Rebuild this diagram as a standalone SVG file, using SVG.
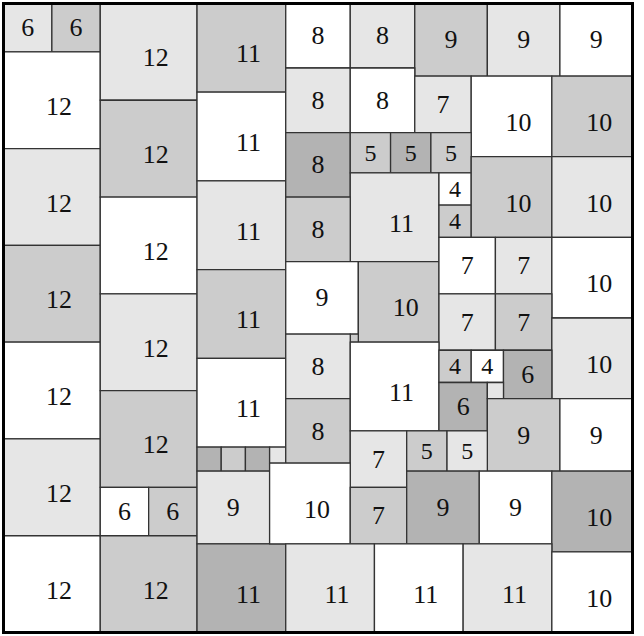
<svg xmlns="http://www.w3.org/2000/svg" width="644" height="636" viewBox="0 0 644 636">
<style>
rect{stroke:#333;stroke-width:1.3;vector-effect:non-scaling-stroke}
.w{fill:#fff}.l{fill:#e6e6e6}.m{fill:#ccc}.d{fill:#b3b3b3}
text{font-family:"Liberation Serif","DejaVu Serif",serif;font-size:3.22px;text-anchor:middle;fill:#111}
text.s{font-size:2.98px}
#border{fill:none;stroke:#000;stroke-width:3}
</style>
<rect x="0" y="0" width="644" height="636" fill="#fff" style="stroke:none"/>
<g transform="translate(3.5 3.5) scale(8.0641)">
<g id="n1"><rect class="l" x="0" y="0" width="6" height="6"/><text x="3" y="4.07">6</text></g>
<g id="n2"><rect class="m" x="6" y="0" width="6" height="6"/><text x="9" y="4.07">6</text></g>
<g id="n3"><rect class="w" x="0" y="6" width="12" height="12"/><text x="6.87" y="13.8">12</text></g>
<g id="n4"><rect class="l" x="0" y="18" width="12" height="12"/><text x="6.87" y="25.8">12</text></g>
<g id="n5"><rect class="m" x="0" y="30" width="12" height="12"/><text x="6.87" y="37.8">12</text></g>
<g id="n6"><rect class="w" x="0" y="42" width="12" height="12"/><text x="6.87" y="49.8">12</text></g>
<g id="n7"><rect class="l" x="0" y="54" width="12" height="12"/><text x="6.87" y="61.8">12</text></g>
<g id="n8"><rect class="w" x="0" y="66" width="12" height="12"/><text x="6.87" y="73.8">12</text></g>
<g id="n9"><rect class="l" x="12" y="0" width="12" height="12"/><text x="18.87" y="7.8">12</text></g>
<g id="n10"><rect class="m" x="12" y="12" width="12" height="12"/><text x="18.87" y="19.8">12</text></g>
<g id="n11"><rect class="w" x="12" y="24" width="12" height="12"/><text x="18.87" y="31.8">12</text></g>
<g id="n12"><rect class="l" x="12" y="36" width="12" height="12"/><text x="18.87" y="43.8">12</text></g>
<g id="n13"><rect class="m" x="12" y="48" width="12" height="12"/><text x="18.87" y="55.8">12</text></g>
<g id="n14"><rect class="w" x="12" y="60" width="6" height="6"/><text x="15" y="64.07">6</text></g>
<g id="n15"><rect class="m" x="18" y="60" width="6" height="6"/><text x="21" y="64.07">6</text></g>
<g id="n16"><rect class="m" x="12" y="66" width="12" height="12"/><text x="18.87" y="73.8">12</text></g>
<g id="n17"><rect class="m" x="24" y="0" width="11" height="11"/><text x="30.37" y="7.3">11</text></g>
<g id="n18"><rect class="w" x="24" y="11" width="11" height="11"/><text x="30.37" y="18.3">11</text></g>
<g id="n19"><rect class="l" x="24" y="22" width="11" height="11"/><text x="30.37" y="29.3">11</text></g>
<g id="n20"><rect class="m" x="24" y="33" width="11" height="11"/><text x="30.37" y="40.3">11</text></g>
<g id="n21"><rect class="w" x="24" y="44" width="11" height="11"/><text x="30.37" y="51.3">11</text></g>
<g id="n22"><rect class="d" x="24" y="55" width="3" height="3"/></g>
<g id="n23"><rect class="m" x="27" y="55" width="3" height="3"/></g>
<g id="n24"><rect class="d" x="30" y="55" width="3" height="3"/></g>
<g id="n25"><rect class="l" x="33" y="55" width="2" height="2"/></g>
<g id="n26"><rect class="l" x="24" y="58" width="9" height="9"/><text x="28.5" y="63.57">9</text></g>
<g id="n27"><rect class="d" x="24" y="67" width="11" height="11"/><text x="30.37" y="74.3">11</text></g>
<g id="n28"><rect class="w" x="35" y="0" width="8" height="8"/><text x="39" y="5.07">8</text></g>
<g id="n29"><rect class="l" x="43" y="0" width="8" height="8"/><text x="47" y="5.07">8</text></g>
<g id="n30"><rect class="m" x="51" y="0" width="9" height="9"/><text x="55.5" y="5.57">9</text></g>
<g id="n31"><rect class="l" x="60" y="0" width="9" height="9"/><text x="64.5" y="5.57">9</text></g>
<g id="n32"><rect class="w" x="69" y="0" width="9" height="9"/><text x="73.5" y="5.57">9</text></g>
<g id="n33"><rect class="l" x="35" y="8" width="8" height="8"/><text x="39" y="13.07">8</text></g>
<g id="n34"><rect class="w" x="43" y="8" width="8" height="8"/><text x="47" y="13.07">8</text></g>
<g id="n35"><rect class="l" x="51" y="9" width="7" height="7"/><text x="54.5" y="13.57">7</text></g>
<g id="n36"><rect class="w" x="58" y="9" width="10" height="10"/><text x="63.87" y="15.8">10</text></g>
<g id="n37"><rect class="m" x="68" y="9" width="10" height="10"/><text x="73.87" y="15.8">10</text></g>
<g id="n38"><rect class="d" x="35" y="16" width="8" height="8"/><text x="39" y="21.07">8</text></g>
<g id="n39"><rect class="m" x="43" y="16" width="5" height="5"/><text class="s" x="45.5" y="19.48">5</text></g>
<g id="n40"><rect class="d" x="48" y="16" width="5" height="5"/><text class="s" x="50.5" y="19.48">5</text></g>
<g id="n41"><rect class="m" x="53" y="16" width="5" height="5"/><text class="s" x="55.5" y="19.48">5</text></g>
<g id="n42"><rect class="l" x="43" y="21" width="11" height="11"/><text x="49.37" y="28.3">11</text></g>
<g id="n43"><rect class="w" x="54" y="21" width="4" height="4"/><text class="s" x="56" y="23.98">4</text></g>
<g id="n44"><rect class="m" x="54" y="25" width="4" height="4"/><text class="s" x="56" y="27.98">4</text></g>
<g id="n45"><rect class="m" x="58" y="19" width="10" height="10"/><text x="63.87" y="25.8">10</text></g>
<g id="n46"><rect class="l" x="68" y="19" width="10" height="10"/><text x="73.87" y="25.8">10</text></g>
<g id="n47"><rect class="m" x="35" y="24" width="8" height="8"/><text x="39" y="29.07">8</text></g>
<g id="n48"><rect class="w" x="35" y="32" width="9" height="9"/><text x="39.5" y="37.57">9</text></g>
<g id="n49"><rect class="m" x="44" y="32" width="10" height="10"/><text x="49.87" y="38.8">10</text></g>
<g id="n50"><rect class="m" x="43" y="41" width="1" height="1"/></g>
<g id="n51"><rect class="w" x="54" y="29" width="7" height="7"/><text x="57.5" y="33.57">7</text></g>
<g id="n52"><rect class="l" x="61" y="29" width="7" height="7"/><text x="64.5" y="33.57">7</text></g>
<g id="n53"><rect class="w" x="68" y="29" width="10" height="10"/><text x="73.87" y="35.8">10</text></g>
<g id="n54"><rect class="l" x="54" y="36" width="7" height="7"/><text x="57.5" y="40.57">7</text></g>
<g id="n55"><rect class="m" x="61" y="36" width="7" height="7"/><text x="64.5" y="40.57">7</text></g>
<g id="n56"><rect class="l" x="68" y="39" width="10" height="10"/><text x="73.87" y="45.8">10</text></g>
<g id="n57"><rect class="l" x="35" y="41" width="8" height="8"/><text x="39" y="46.07">8</text></g>
<g id="n58"><rect class="m" x="35" y="49" width="8" height="8"/><text x="39" y="54.07">8</text></g>
<g id="n59"><rect class="w" x="43" y="42" width="11" height="11"/><text x="49.37" y="49.3">11</text></g>
<g id="n60"><rect class="m" x="54" y="43" width="4" height="4"/><text class="s" x="56" y="45.98">4</text></g>
<g id="n61"><rect class="w" x="58" y="43" width="4" height="4"/><text class="s" x="60" y="45.98">4</text></g>
<g id="n62"><rect class="d" x="62" y="43" width="6" height="6"/><text x="65" y="47.07">6</text></g>
<g id="n63"><rect class="d" x="54" y="47" width="6" height="6"/><text x="57" y="51.07">6</text></g>
<g id="n64"><rect class="l" x="60" y="47" width="2" height="2"/></g>
<g id="n65"><rect class="m" x="60" y="49" width="9" height="9"/><text x="64.5" y="54.57">9</text></g>
<g id="n66"><rect class="w" x="69" y="49" width="9" height="9"/><text x="73.5" y="54.57">9</text></g>
<g id="n67"><rect class="l" x="43" y="53" width="7" height="7"/><text x="46.5" y="57.57">7</text></g>
<g id="n68"><rect class="m" x="50" y="53" width="5" height="5"/><text class="s" x="52.5" y="56.48">5</text></g>
<g id="n69"><rect class="l" x="55" y="53" width="5" height="5"/><text class="s" x="57.5" y="56.48">5</text></g>
<g id="n70"><rect class="w" x="33" y="57" width="10" height="10"/><text x="38.87" y="63.8">10</text></g>
<g id="n71"><rect class="m" x="43" y="60" width="7" height="7"/><text x="46.5" y="64.57">7</text></g>
<g id="n72"><rect class="d" x="50" y="58" width="9" height="9"/><text x="54.5" y="63.57">9</text></g>
<g id="n73"><rect class="w" x="59" y="58" width="9" height="9"/><text x="63.5" y="63.57">9</text></g>
<g id="n74"><rect class="d" x="68" y="58" width="10" height="10"/><text x="73.87" y="64.8">10</text></g>
<g id="n75"><rect class="l" x="35" y="67" width="11" height="11"/><text x="41.37" y="74.3">11</text></g>
<g id="n76"><rect class="w" x="46" y="67" width="11" height="11"/><text x="52.37" y="74.3">11</text></g>
<g id="n77"><rect class="l" x="57" y="67" width="11" height="11"/><text x="63.37" y="74.3">11</text></g>
<g id="n78"><rect class="w" x="68" y="68" width="10" height="10"/><text x="73.87" y="74.8">10</text></g>
<rect id="border" x="0" y="0" width="78" height="78"/>
</g>
</svg>
